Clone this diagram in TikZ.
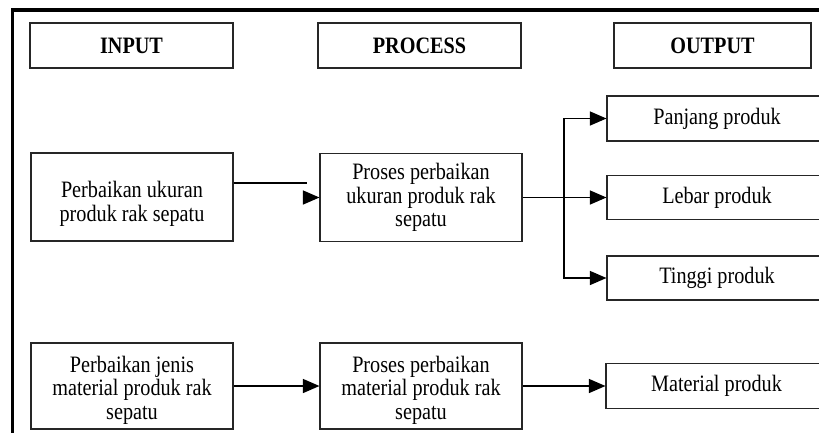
\documentclass[tikz,border=0pt]{standalone}
\usepackage{fontspec}
\setmainfont[FakeStretch=0.86]{Liberation Serif}
\usetikzlibrary{arrows.meta}
\newcommand{\lowtext}[2]{\raisebox{-#1}[\height][\depth]{\begin{tabular}{@{}c@{}}#2\end{tabular}}}
\begin{document}
\begin{tikzpicture}[x=1pt,y=-1pt,
  box/.style={draw=black!85,line width=1.1pt,inner sep=0pt,align=center,
    font=\fontsize{23.5}{23.5}\selectfont},
  hdr/.style={box,minimum height=45pt,font=\fontsize{23.5}{23.5}\selectfont\bfseries},
  conn/.style={line width=1.3pt,black},
  arr/.style={conn,-{Triangle[length=16.5pt,width=14pt]}}]
\useasboundingbox (0,0) rectangle (819,432);
% outer frame (runs past the right and bottom edges)
\draw[line width=3.5pt] (12.5,445) -- (12.5,10) -- (830,10);
% headers
\node[hdr,minimum width=203pt] (hin) at (131.5,45.5) {INPUT};
\node[hdr,minimum width=203pt] (hpr) at (419.5,45.5) {PROCESS};
\node[hdr,minimum width=197pt] (hout) at (712.5,45.5) {OUTPUT};
% row 1
\node[box,minimum width=202pt,minimum height=88pt] (in1) at (132,197)
  {\lowtext{8pt}{Perbaikan ukuran\\produk rak sepatu}};
\node[box,minimum width=202pt,minimum height=88pt] (pr1) at (421,197.5)
  {Proses perbaikan\\ukuran produk rak\\sepatu};
\node[box,minimum width=220pt,minimum height=45pt] (panjang) at (717,118.5) {Panjang produk};
\node[box,minimum width=220pt,minimum height=44pt] (lebar) at (717,197.5) {Lebar produk};
\node[box,minimum width=220pt,minimum height=44pt] (tinggi) at (717,278) {Tinggi produk};
% row 2
\node[box,minimum width=202pt,minimum height=86pt] (in2) at (132,386)
  {\lowtext{5pt}{Perbaikan jenis\\material produk rak\\sepatu}};
\node[box,minimum width=202pt,minimum height=86pt] (pr2) at (421,386)
  {\lowtext{5pt}{Proses perbaikan\\material produk rak\\sepatu}};
\node[box,minimum width=221pt,minimum height=45pt] (material) at (716.5,386) {Material produk};
% connectors row 1
\coordinate (brk) at (307,183);
\draw[conn] (in1.east |- brk) -- (brk);
\draw[arr] ([xshift=-16.5pt]pr1.west) -- (pr1.west);
\coordinate (split) at (564,197.5);
\draw[arr] (pr1.east) -- (lebar.west);
\draw[arr] (split) |- (panjang.west);
\draw[arr] (split) |- (tinggi.west);
% connectors row 2
\draw[arr] (in2.east) -- (pr2.west);
\draw[arr] (pr2.east) -- (material.west);
\end{tikzpicture}
\end{document}
